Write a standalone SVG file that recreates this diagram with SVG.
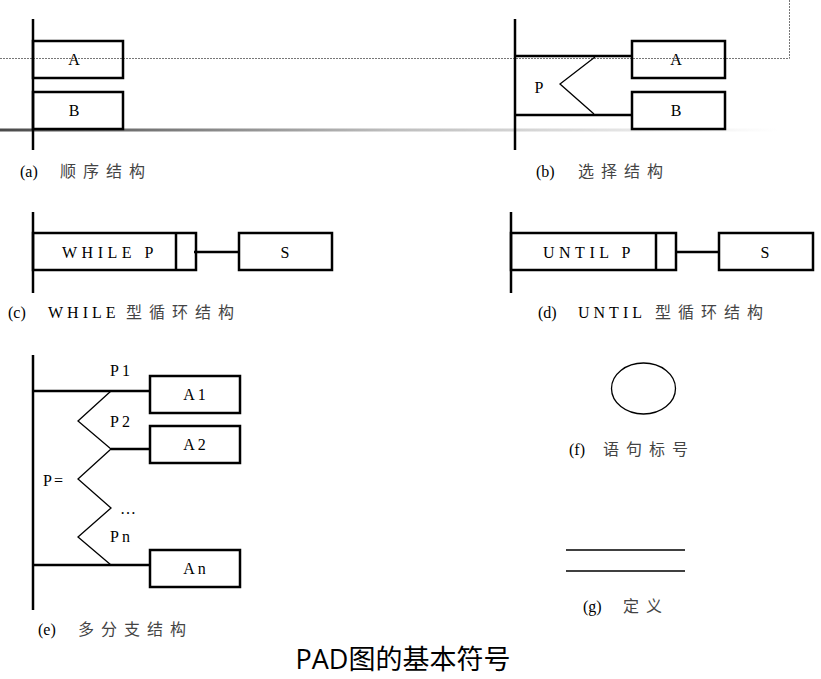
<svg xmlns="http://www.w3.org/2000/svg" width="821" height="679" viewBox="0 0 821 679">
<style>
.ln{stroke:#000;stroke-width:2.5;fill:none}
.th{stroke:#000;stroke-width:1.3;fill:none}
.bx{stroke:#000;stroke-width:2.5;fill:none}
text{font-family:'Liberation Serif','Noto Sans CJK SC',serif}
.t{font-size:16px;fill:#000}
.c{font-size:16px;fill:#000}
.z{fill:#444;letter-spacing:7px;font-size:16px}
</style>
<defs>
<linearGradient id="g" x1="0" x2="1" y1="0" y2="0">
<stop offset="0" stop-color="#4a4a4a"/>
<stop offset="0.5" stop-color="#bdbdbd"/>
<stop offset="1" stop-color="#ffffff"/>
</linearGradient>
</defs>
<rect width="821" height="679" fill="#fff"/>
<rect x="0" y="128.5" width="778" height="3" fill="url(#g)"/>
<path d="M0 58.5H789.5V0" stroke="#777" stroke-width="1" stroke-dasharray="2,1" fill="none"/>

<g id="a">
<line class="ln" x1="33" y1="19" x2="33" y2="150"/>
<rect class="bx" x="33" y="41" width="90" height="37"/>
<rect class="bx" x="33" y="92" width="90" height="37"/>
<text class="t" x="74" y="65" text-anchor="middle">A</text>
<text class="t" x="74" y="116" text-anchor="middle">B</text>
<text class="c" x="20" y="177">(a)<tspan class="z" x="60">顺序结构</tspan></text>
</g>

<g id="b">
<line class="ln" x1="515" y1="19" x2="515" y2="150"/>
<line class="ln" x1="515" y1="56" x2="633" y2="56"/>
<line class="ln" x1="515" y1="115" x2="633" y2="115"/>
<polyline class="th" points="595,57 560,84 594,114"/>
<rect class="bx" x="632" y="41" width="93" height="37"/>
<rect class="bx" x="632" y="92" width="93" height="37"/>
<text class="t" x="539" y="93" text-anchor="middle">P</text>
<text class="t" x="676" y="65" text-anchor="middle">A</text>
<text class="t" x="676" y="116" text-anchor="middle">B</text>
<text class="c" x="536" y="177">(b)<tspan class="z" x="578">选择结构</tspan></text>
</g>

<g id="c">
<line class="ln" x1="33" y1="212" x2="33" y2="293"/>
<rect class="bx" x="33" y="233" width="163" height="37"/>
<line class="ln" x1="176" y1="233" x2="176" y2="270"/>
<line class="ln" x1="194" y1="252" x2="240" y2="252"/>
<rect class="bx" x="239" y="233" width="93" height="37"/>
<text class="t" x="62" y="258" letter-spacing="4.5">WHILE P</text>
<text class="t" x="285" y="258" text-anchor="middle">S</text>
<text class="c" x="8" y="318">(c)<tspan x="48" letter-spacing="4">WHILE</tspan><tspan class="z" x="126">型循环结构</tspan></text>
</g>

<g id="d">
<line class="ln" x1="511" y1="212" x2="511" y2="293"/>
<rect class="bx" x="511" y="233" width="165" height="37"/>
<line class="ln" x1="656" y1="233" x2="656" y2="270"/>
<line class="ln" x1="675" y1="252" x2="720" y2="252"/>
<rect class="bx" x="719" y="233" width="94" height="37"/>
<text class="t" x="543" y="258" letter-spacing="4.5">UNTIL P</text>
<text class="t" x="765" y="258" text-anchor="middle">S</text>
<text class="c" x="538" y="318">(d)<tspan x="578" letter-spacing="4">UNTIL</tspan><tspan class="z" x="655">型循环结构</tspan></text>
</g>

<g id="e">
<line class="ln" x1="33" y1="355" x2="33" y2="610"/>
<line class="ln" x1="33" y1="391" x2="151" y2="391"/>
<line class="ln" x1="111" y1="449" x2="151" y2="449"/>
<line class="ln" x1="33" y1="565" x2="151" y2="565"/>
<polyline class="th" points="111,391 78,421 111,449 78,479 111,508 78,537 111,565"/>
<rect class="bx" x="150" y="376" width="90" height="37"/>
<rect class="bx" x="150" y="426" width="90" height="37"/>
<rect class="bx" x="150" y="550" width="90" height="37"/>
<text class="t" x="196" y="400" text-anchor="middle" letter-spacing="3">A1</text>
<text class="t" x="196" y="450" text-anchor="middle" letter-spacing="3">A2</text>
<text class="t" x="196" y="574" text-anchor="middle" letter-spacing="3">An</text>
<text class="t" x="110" y="376" letter-spacing="3">P1</text>
<text class="t" x="110" y="427" letter-spacing="3">P2</text>
<text class="t" x="43" y="486" letter-spacing="2">P=</text>
<text class="t" x="120" y="514">…</text>
<text class="t" x="110" y="542" letter-spacing="3">Pn</text>
<text class="c" x="38" y="635">(e)<tspan class="z" x="78">多分支结构</tspan></text>
</g>

<g id="f">
<ellipse class="th" cx="643.5" cy="388.5" rx="32" ry="25.5" stroke-width="2"/>
<text class="c" x="569" y="455">(f)<tspan class="z" x="603">语句标号</tspan></text>
</g>

<g id="g2">
<line class="th" x1="566" y1="550" x2="685" y2="550" stroke-width="2"/>
<line class="th" x1="566" y1="571" x2="685" y2="571" stroke-width="2"/>
<text class="c" x="583" y="612">(g)<tspan class="z" x="623">定义</tspan></text>
</g>

<text x="403" y="669" text-anchor="middle" style="font-family:'Open Sans','Noto Sans CJK SC',sans-serif;font-size:27px;fill:#000">PAD图的基本符号</text>
</svg>
